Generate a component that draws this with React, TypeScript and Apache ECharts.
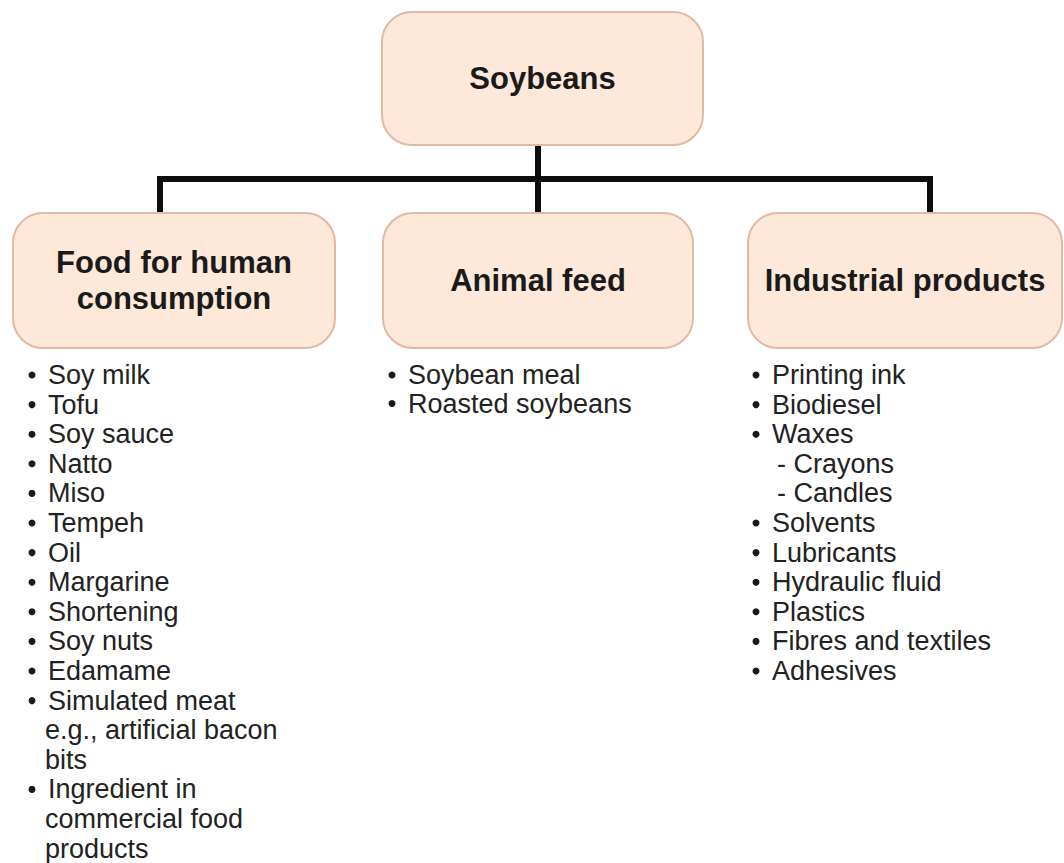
import React, { useEffect, useRef } from "react";
import * as echarts from "echarts";

const rootLabel = "Soybeans";
const categories = ["Food for human\nconsumption", "Animal feed", "Industrial products"];
const foodItems = [
  "Soy milk", "Tofu", "Soy sauce", "Natto", "Miso", "Tempeh", "Oil", "Margarine",
  "Shortening", "Soy nuts", "Edamame", "Simulated meat\ne.g., artificial bacon\nbits",
  "Ingredient in\ncommercial food\nproducts",
];
const feedItems = ["Soybean meal", "Roasted soybeans"];
const industrialItems = [
  "Printing ink", "Biodiesel", "Waxes\n- Crayons\n- Candles", "Solvents", "Lubricants",
  "Hydraulic fluid", "Plastics", "Fibres and textiles", "Adhesives",
];
const itemLists = [foodItems, feedItems, industrialItems];

const FILL = "#fde8d9";
const STROKE = "#e2b9a2";
const FONT = "'Liberation Sans', Arial, Helvetica, sans-serif";

export default function App() {
  const ref = useRef<HTMLDivElement>(null);
  useEffect(() => {
    document.body.style.margin = "0";
    const chart = echarts.init(ref.current!, null, { renderer: "svg" });

    const rootBox = { x: 382, y: 12, w: 321, h: 133 };
    const boxes = [
      { x: 13, y: 213, w: 322, h: 135, lx: 160, bx: 32, tx: 48, cx: 45 },
      { x: 383, y: 213, w: 310, h: 135, lx: 538, bx: 392, tx: 408, cx: 405 },
      { x: 748, y: 213, w: 314, h: 135, lx: 930, bx: 756, tx: 772, cx: 777 },
    ];
    const barY = 179;
    const rowStart = 375;
    const rowStep = 29.6;

    const elements: any[] = [];
    const lineStyle = { stroke: "#0d0d0d", lineWidth: 6 };
    elements.push({ type: "line", shape: { x1: boxes[0].lx, y1: barY, x2: boxes[2].lx, y2: barY }, style: lineStyle });
    elements.push({ type: "line", shape: { x1: 538, y1: rootBox.y + rootBox.h, x2: 538, y2: boxes[1].y }, style: lineStyle });
    elements.push({ type: "line", shape: { x1: boxes[0].lx, y1: barY - 3, x2: boxes[0].lx, y2: boxes[0].y }, style: lineStyle });
    elements.push({ type: "line", shape: { x1: boxes[2].lx, y1: barY - 3, x2: boxes[2].lx, y2: boxes[2].y }, style: lineStyle });

    elements.push({
      type: "rect",
      shape: { x: rootBox.x, y: rootBox.y, width: rootBox.w, height: rootBox.h, r: 30 },
      style: { fill: FILL, stroke: STROKE, lineWidth: 2 },
    });
    elements.push({
      type: "text",
      x: rootBox.x + rootBox.w / 2,
      y: rootBox.y + rootBox.h / 2,
      style: {
        text: rootLabel, fill: "#1a1a1a", font: `bold 31px ${FONT}`,
        textAlign: "center", textVerticalAlign: "middle",
      },
    });

    categories.forEach((cat, i) => {
      const b = boxes[i];
      elements.push({
        type: "rect",
        shape: { x: b.x, y: b.y, width: b.w, height: b.h, r: 30 },
        style: { fill: FILL, stroke: STROKE, lineWidth: 2 },
      });
      elements.push({
        type: "text",
        x: b.x + b.w / 2,
        y: b.y + b.h / 2,
        style: {
          text: cat, fill: "#1a1a1a", font: `bold 31px ${FONT}`,
          textAlign: "center", textVerticalAlign: "middle", lineHeight: 36,
        },
      });

      let row = 0;
      itemLists[i].forEach((item) => {
        const parts = item.split("\n");
        parts.forEach((p, k) => {
          const y = rowStart + row * (i === 1 ? 28.5 : rowStep);
          if (k === 0) {
            elements.push({
              type: "circle", shape: { cx: b.bx, cy: y, r: 3.5 },
              style: { fill: "#1a1a1a" },
            });
            elements.push({
              type: "text", x: b.tx, y,
              style: { text: p, fill: "#222", font: `27px ${FONT}`, textAlign: "left", textVerticalAlign: "middle" },
            });
          } else {
            elements.push({
              type: "text", x: b.cx, y,
              style: { text: p, fill: "#222", font: `27px ${FONT}`, textAlign: "left", textVerticalAlign: "middle" },
            });
          }
          row++;
        });
      });
    });

    chart.setOption({
      animation: false,
      backgroundColor: "#ffffff",
      graphic: { elements },
    });
    return () => chart.dispose();
  }, []);

  return (
    <div
      ref={ref}
      style={{ position: "absolute", left: 0, top: 0, width: 1064, height: 863 }}
    />
  );
}
